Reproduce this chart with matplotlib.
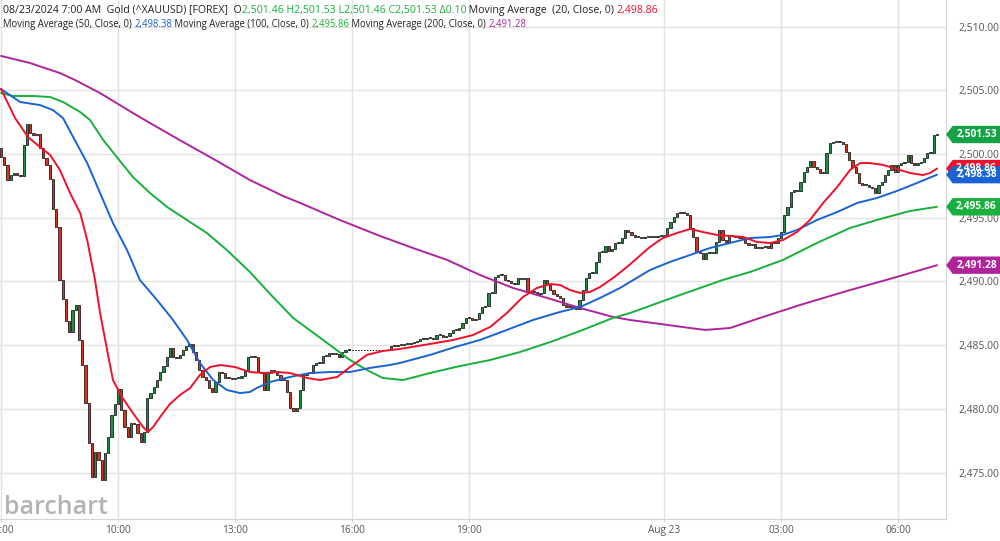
import numpy as np
import matplotlib
matplotlib.use("Agg")
import matplotlib.pyplot as plt
from matplotlib.patches import Polygon
from matplotlib.transforms import blended_transform_factory

plt.rcParams['font.family'] = ['Open Sans', 'DejaVu Sans']

# 5-minute closes, Aug 22 07:00 - 15:55
day_open_first = 2500.47
day_close = [
    2499.76, 2499.14, 2497.96, 2498.35, 2498.51, 2498.35, 2498.28, 2500.71, 2502.35, 2501.65,
    2501.49, 2501.57, 2500.47, 2499.69, 2499.14, 2498.04, 2495.69, 2494.28, 2490.12, 2488.63,
    2486.91, 2486.04, 2487.77, 2488.16, 2485.42, 2483.46, 2480.48, 2477.34, 2474.68, 2476.64,
    2476.01, 2474.44, 2476.56, 2477.81, 2479.54, 2480.40, 2481.58, 2479.93, 2478.60, 2477.81,
    2478.91, 2478.83, 2478.13, 2477.42, 2478.20, 2480.87, 2481.26, 2481.73, 2482.28, 2482.91,
    2483.38, 2484.09, 2484.79, 2484.09, 2484.01, 2484.24, 2484.63, 2484.95, 2485.10, 2484.48,
    2483.85, 2483.07, 2482.52, 2482.28, 2481.65, 2481.34, 2482.12, 2482.91, 2482.83, 2482.44,
    2482.44, 2482.36, 2482.44, 2482.44, 2482.60, 2483.07, 2484.09, 2484.09, 2484.09, 2482.91,
    2482.83, 2481.50, 2482.83, 2483.07, 2482.99, 2482.67, 2482.28, 2482.28, 2481.34, 2480.09,
    2479.85, 2480.09, 2481.50, 2482.67, 2482.83, 2482.83, 2483.46, 2483.61, 2483.61, 2484.16,
    2484.16, 2484.40, 2484.32, 2484.32, 2484.09, 2484.48, 2484.63, 2484.63,
]
# 5-minute closes, Aug 22 17:00 - Aug 23 07:00
night_close = [
    2484.95, 2484.95, 2485.03, 2485.03, 2485.10, 2485.10, 2485.18, 2485.26, 2485.34, 2485.50,
    2485.50, 2485.57, 2485.57, 2485.50, 2485.81, 2485.81, 2485.65, 2485.73, 2485.97, 2486.20,
    2486.20, 2486.36, 2486.75, 2487.14, 2487.14, 2486.99, 2487.06, 2487.53, 2488.00, 2488.08,
    2489.10, 2489.10, 2490.36, 2490.51, 2490.51, 2490.12, 2490.04, 2489.89, 2489.81, 2490.28,
    2490.20, 2490.28, 2489.18, 2489.18, 2489.18, 2489.02, 2489.10, 2490.12, 2489.81, 2489.34,
    2489.02, 2488.87, 2488.71, 2488.16, 2488.00, 2488.00, 2488.00, 2487.85, 2488.55, 2489.34,
    2490.28, 2490.67, 2490.67, 2491.53, 2492.32, 2492.32, 2492.79, 2492.40, 2492.55, 2493.02,
    2493.02, 2493.41, 2494.04, 2493.88, 2493.65, 2493.49, 2493.49, 2493.41, 2493.49, 2493.49,
    2493.49, 2493.49, 2493.57, 2493.57, 2493.65, 2494.20, 2494.67, 2495.06, 2495.37, 2495.37,
    2495.37, 2495.22, 2494.20, 2493.49, 2492.32, 2492.24, 2491.77, 2492.24, 2492.24, 2492.24,
    2493.10, 2494.04, 2493.26, 2493.10, 2493.65, 2493.57, 2493.49, 2493.41, 2493.41, 2493.02,
    2492.87, 2492.94, 2492.63, 2492.63, 2492.71, 2492.79, 2492.63, 2493.10, 2493.02, 2493.41,
    2493.88, 2495.22, 2495.84, 2497.02, 2497.18, 2497.10, 2497.80, 2498.59, 2498.98, 2499.45,
    2498.98, 2498.82, 2498.51, 2498.51, 2500.08, 2500.86, 2500.94, 2500.94, 2500.94, 2500.78,
    2500.16, 2499.53, 2498.98, 2498.51, 2497.73, 2497.57, 2497.57, 2497.41, 2497.33,
    2496.94, 2497.57, 2497.80, 2498.35, 2498.75, 2499.14, 2498.59, 2499.14, 2499.29, 2499.37,
    2499.92, 2499.29, 2499.14, 2499.29, 2499.37, 2499.69, 2500.08, 2500.08, 2501.46, 2501.53,
]

# moving averages, hours after 07:00 Aug 22
ma20_t = [0, 0.36, 0.69, 1.00, 1.26, 1.51, 1.77, 2.03, 2.21, 2.41, 2.54, 2.72, 2.87, 3.10, 3.38,
          3.64, 3.77, 3.90, 4.08, 4.33, 4.59, 4.85, 5.10, 5.36, 5.62, 6.00, 6.38, 6.77, 7.08, 7.41,
          7.85, 8.18, 8.62, 8.95, 9.38, 9.79, 10.23, 11.00, 11.59, 12.10, 12.54, 12.97, 13.38, 13.74,
          14.08, 14.33, 14.59, 14.85, 15.10, 15.36, 15.69, 16.05, 16.64, 16.97, 17.33, 17.67, 18.00,
          18.36, 18.69, 19.03, 19.38, 19.72, 20.05, 20.41, 20.74, 21.08, 21.44, 21.77, 22.03, 22.28,
          22.62, 22.97, 23.31, 23.64, 23.82, 24.00]
ma20 = [2505.10, 2502.82, 2501.33, 2500.55, 2499.92, 2498.75, 2496.94, 2495.37, 2493.25, 2490.12,
        2487.53, 2484.63, 2482.27, 2480.94, 2479.69, 2478.59, 2478.20, 2478.59, 2479.37, 2480.39,
        2481.10, 2481.65, 2482.67, 2483.29, 2483.45, 2483.29, 2482.90, 2482.82, 2482.90, 2482.82,
        2482.43, 2482.27, 2482.51, 2483.29, 2484.24, 2484.55, 2484.71, 2485.10, 2485.41, 2485.80,
        2486.43, 2487.53, 2488.78, 2489.49, 2489.80, 2489.73, 2489.33, 2489.10, 2489.18, 2489.57,
        2490.27, 2491.14, 2492.71, 2493.41, 2493.80, 2494.12, 2493.88, 2493.65, 2493.57, 2493.49,
        2493.10, 2493.02, 2493.25, 2493.88, 2494.82, 2496.16, 2497.41, 2498.75, 2499.29, 2499.29,
        2499.14, 2498.82, 2498.51, 2498.35, 2498.51, 2498.86]

ma50_t = [0, 0.49, 1.00, 1.33, 1.59, 1.85, 2.21, 2.54, 2.87, 3.23, 3.56, 4.00, 4.41, 4.77, 5.10,
          5.44, 5.79, 6.13, 6.38, 6.56, 6.90, 7.41, 7.92, 8.44, 8.95, 9.46, 9.97, 10.23, 11.00,
          11.64, 12.28, 12.97, 13.64, 14.33, 14.85, 15.36, 15.87, 16.64, 17.15, 17.67, 18.18,
          18.69, 19.21, 19.72, 20.05, 20.41, 20.92, 21.44, 21.95, 22.46, 22.97, 23.49, 24.00]
ma50 = [2505.10, 2504.08, 2503.84, 2503.45, 2502.82, 2501.33, 2499.29, 2496.94, 2494.59, 2492.47,
        2490.12, 2488.55, 2486.98, 2485.41, 2483.61, 2482.27, 2481.49, 2481.25, 2481.33, 2481.65,
        2482.12, 2482.51, 2482.82, 2482.90, 2482.90, 2483.22, 2483.45, 2483.61, 2484.24, 2484.86,
        2485.41, 2486.20, 2486.98, 2487.61, 2488.00, 2488.71, 2489.49, 2490.90, 2491.53, 2492.08,
        2492.63, 2493.02, 2493.41, 2493.49, 2493.65, 2494.04, 2494.82, 2495.45, 2496.16, 2496.55,
        2497.10, 2497.73, 2498.38]

ma100_t = [0, 0.31, 0.82, 1.26, 1.59, 2.03, 2.28, 2.62, 2.97, 3.38, 3.82, 4.26, 4.77, 5.28, 5.79,
           6.38, 6.90, 7.49, 8.26, 8.95, 9.38, 9.79, 10.31, 11.00, 11.77, 12.54, 13.31, 14.08,
           14.85, 15.69, 16.13, 17.41, 18.51, 19.21, 20.05, 20.92, 21.77, 22.54, 23.31, 24.00]
ma100 = [2504.78, 2504.55, 2504.55, 2504.47, 2504.08, 2503.29, 2502.67, 2501.10, 2499.76, 2498.20,
         2496.94, 2495.84, 2494.82, 2493.80, 2492.47, 2490.75, 2489.02, 2487.14, 2485.41, 2483.84,
         2483.06, 2482.43, 2482.27, 2482.82, 2483.37, 2483.84, 2484.47, 2485.25, 2486.12, 2487.14,
         2487.53, 2488.94, 2490.12, 2490.75, 2491.69, 2493.02, 2494.20, 2494.90, 2495.53, 2495.86]

ma200_t = [0, 0.74, 1.51, 1.90, 2.54, 3.38, 3.82, 4.67, 5.54, 6.38, 7.23, 7.67, 8.69, 9.72, 10.56,
           11.44, 12.28, 13.13, 14.00, 14.85, 15.69, 16.13, 16.90, 17.67, 18.05, 18.69, 19.46,
           20.49, 21.77, 22.79, 24.00]
ma200 = [2507.69, 2507.14, 2506.35, 2505.80, 2504.78, 2503.22, 2502.43, 2500.94, 2499.45, 2497.96,
         2496.71, 2496.16, 2494.82, 2493.57, 2492.63, 2491.69, 2490.51, 2489.49, 2488.71, 2487.92,
         2487.22, 2486.98, 2486.67, 2486.35, 2486.20, 2486.35, 2487.14, 2488.16, 2489.33, 2490.20,
         2491.28]

x_ticks = [0, 3, 6, 9, 12, 17, 20, 23]
x_labels = ["07:00", "10:00", "13:00", "16:00", "19:00", "Aug 23", "03:00", "06:00"]
y_ticks = [2475, 2480, 2485, 2490, 2495, 2500, 2505, 2510]

UP, DOWN = "#1f8f42", "#d5361f"
C20, C50, C100, C200 = "#f0102a", "#1a63d3", "#18b03c", "#b0249b"
TAG_GREEN = "#15a246"

fig = plt.figure(figsize=(10, 5.41), dpi=100)
ax = fig.add_axes([0, 22 / 541, 0.946, 519 / 541])
ax.set_xlim(-0.026, 24.23)
ax.set_ylim(2471.37, 2512.08)

# candles
def candles(t0, first_open, closes):
    t = t0 + np.arange(len(closes)) * 5 / 60
    c = np.array(closes)
    o = np.concatenate([[first_open], c[:-1]])
    lo = np.minimum(o, c)
    h = np.maximum(np.abs(c - o), 0.06)
    cols = [UP if cc >= oo else DOWN for oo, cc in zip(o, c)]
    ax.bar(t, h, bottom=lo, width=0.058, color=cols, edgecolor="black",
           linewidth=0.5, zorder=3)
    return t

t_day = candles(0.0, day_open_first, day_close)
t_night = candles(10.0, day_close[-1], night_close)
ax.plot([t_day[-1], t_night[0]], [day_close[-1], day_close[-1]], color="black",
        lw=0.7, ls=(0, (1.5, 1.5)), zorder=3)

for tt, vv, cc in [(ma200_t, ma200, C200), (ma100_t, ma100, C100),
                   (ma50_t, ma50, C50), (ma20_t, ma20, C20)]:
    ax.plot(tt, vv, color=cc, lw=1.4, zorder=4, solid_capstyle="round")

ax.set_xticks(x_ticks)
ax.set_xticklabels(x_labels)
ax.set_yticks(y_ticks)
ax.set_yticklabels([f"{v:,.2f}" for v in y_ticks])
ax.yaxis.tick_right()
ax.grid(True, color="#e2e2e2", lw=1)
ax.set_axisbelow(True)
for s in ["top", "left"]:
    ax.spines[s].set_visible(False)
for s in ["right", "bottom"]:
    ax.spines[s].set_color("#d4d4d4")
ax.tick_params(axis="y", length=0, pad=9, labelsize=7.5, labelcolor="#555555")
ax.tick_params(axis="x", length=2.5, color="#d4d4d4", pad=1.5, labelsize=7.3,
               labelcolor="#555555")

# value tags on the price axis
tr = blended_transform_factory(ax.transAxes, ax.transData)
px = 1 / 946
half = 8 / 12.75

def tag(y, text, color):
    pts = [(1 + 1 * px, y), (1 + 7 * px, y + half), (1 + 60 * px, y + half),
           (1 + 60 * px, y - half), (1 + 7 * px, y - half)]
    ax.add_patch(Polygon(pts, closed=True, transform=tr, color=color,
                         clip_on=False, zorder=10))
    ax.text(1 + 30.5 * px, y, text, transform=tr, ha="center", va="center",
            color="white", fontsize=7.3, fontweight="bold", clip_on=False, zorder=11)

tag(night_close[-1], f"{night_close[-1]:,.2f}", TAG_GREEN)
tag(ma20[-1], f"{ma20[-1]:,.2f}", C20)
tag(ma50[-1], f"{ma50[-1]:,.2f}", C50)
tag(ma100[-1], f"{ma100[-1]:,.2f}", C100)
tag(ma200[-1], f"{ma200[-1]:,.2f}", C200)

# watermark
fig.text(0.004, (541 - 514) / 541, "barchart", fontsize=18, fontweight="semibold",
         color="#b3b3b3", ha="left", va="baseline")

# header legend: each coloured piece starts where the text before it ends
renderer = fig.canvas.get_renderer()

def text_width(s, size):
    p = fig.text(0, 0, s + "x", fontsize=size)
    w = p.get_window_extent(renderer).width
    p.set_text("x")
    w -= p.get_window_extent(renderer).width
    p.remove()
    return w

def header(y_px, size, parts):
    done = ""
    for s, c in parts:
        x = 3 + text_width(done, size) if done else 3
        fig.text(x / 1000, 1 - y_px / 541, s, color=c, fontsize=size,
                 ha="left", va="center")
        done += s

K = "#222222"
header(10, 7.6, [("08/23/2024 7:00 AM  Gold (^XAUUSD) [FOREX]  O", K),
                 ("2,501.46 H2,501.53 L2,501.46 C2,501.53 \u03940.10", C100),
                 (" Moving Average  (20, Close, 0) ", K), ("2,498.86", C20)])
header(24.5, 6.85, [("Moving Average (50, Close, 0) ", K), ("2,498.38", C50),
                    (" Moving Average (100, Close, 0) ", K), ("2,495.86", C100),
                    (" Moving Average (200, Close, 0) ", K), ("2,491.28", C200)])

fig.savefig("out.png", dpi=100)
